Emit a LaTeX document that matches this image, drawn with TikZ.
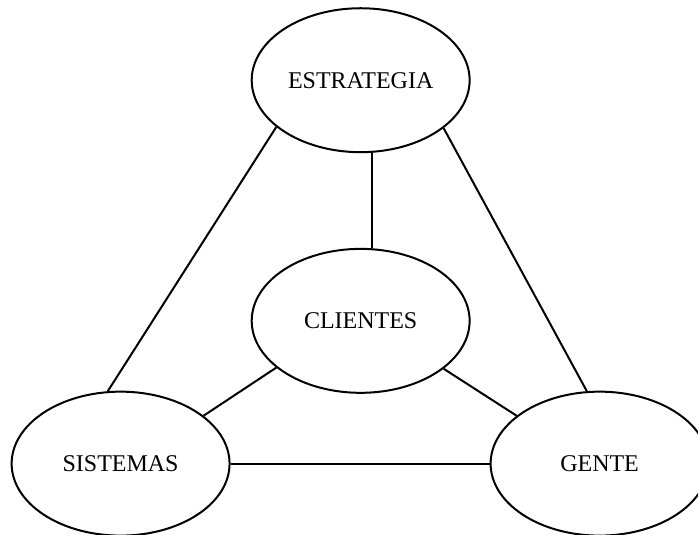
\documentclass[tikz,border=0pt]{standalone}
\usepackage{fontspec}
\setmainfont{Liberation Serif}
\usetikzlibrary{shapes.geometric}

\tikzset{bubble/.style={draw, line width=1pt, ellipse, inner sep=0pt,
    minimum width=109pt, minimum height=72pt,
    font=\fontsize{12}{14}\selectfont},
  link/.style={line width=1pt}}

\begin{document}
\begin{tikzpicture}
        \useasboundingbox (0,0) rectangle (12.27,9.40);
        \node [bubble] (est) at (6.34, 7.99) {ESTRATEGIA};
        \node [bubble] (cli) at (6.34, 3.76) {CLIENTES};
        \node [bubble] (sis) at (2.12, 1.25) {SISTEMAS};
        \node [bubble] (gen) at (10.54, 1.25) {GENTE};
        \draw [link] (est.279) -- (cli.81);
        \draw [link] (est.209) -- (sis.100);
        \draw [link] (est.330) -- (gen.100);
        \draw [link] (cli.209) -- (sis.30);
        \draw [link] (cli.330) -- (gen.150);
        \draw [link] (sis.0) -- (gen.180);
      \end{tikzpicture}
\end{document}
